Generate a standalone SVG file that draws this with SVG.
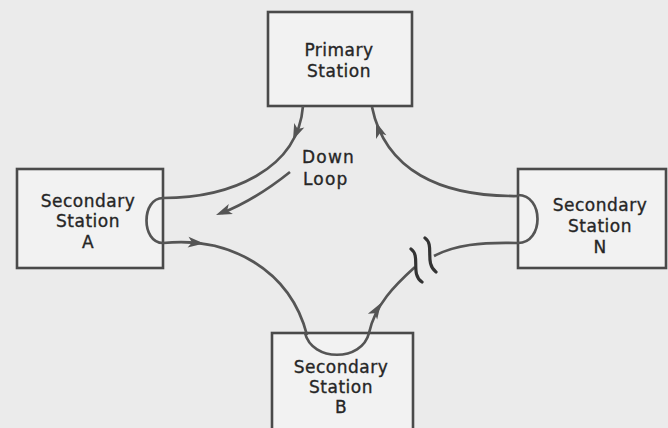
<svg xmlns="http://www.w3.org/2000/svg" xmlns:xlink="http://www.w3.org/1999/xlink" width="668" height="428" viewBox="0 0 668 428">
<style>
.box{fill:#f2f2f2;stroke:#4a4a4a;stroke-width:2.6}
.lbl{font-family:"DejaVu Sans",sans-serif;font-size:17px;fill:#262626;stroke:#262626;stroke-width:0.35;text-anchor:middle;letter-spacing:0.5px}
.line{fill:none;stroke:#555;stroke-width:2.7}
.brk{fill:none;stroke:#333;stroke-width:3.2;stroke-linecap:round}
.ah{fill:#555}
</style>
<defs>
<path id="ah" d="M0,0 L-16,-5.5 L-12,0 L-16,5.5 Z"/>
</defs>
<rect x="0" y="0" width="668" height="428" fill="#ebebeb"/>

<g id="primary">
<rect class="box" x="268" y="12" width="144" height="94"/>
<text class="lbl" x="339" y="56">Primary</text>
<text class="lbl" x="339" y="77">Station</text>
</g>

<g id="secA">
<rect class="box" x="17" y="169" width="146" height="99"/>
<text class="lbl" x="88" y="207">Secondary</text>
<text class="lbl" x="88" y="227">Station</text>
<text class="lbl" x="88" y="248">A</text>
</g>

<g id="secN">
<rect class="box" x="518" y="169" width="148" height="99"/>
<text class="lbl" x="600" y="211">Secondary</text>
<text class="lbl" x="600" y="232">Station</text>
<text class="lbl" x="600" y="253">N</text>
</g>

<g id="secB">
<rect class="box" x="272" y="333" width="141" height="100"/>
<text class="lbl" x="341" y="373">Secondary</text>
<text class="lbl" x="341" y="393">Station</text>
<text class="lbl" x="341" y="413">B</text>
</g>

<g id="connectors">
<path class="line" d="M303,106 C298,170 230,198 163,198"/>
<path class="line" d="M163,198 C141,198 141,243 163,243"/>
<path class="line" d="M163,243 C230,236 290,270 307,335"/>
<path class="line" d="M305,333 C312,362 362,362 369,333"/>
<path class="line" d="M369,333 C375,305 395,285 415,267"/>
<path class="line" d="M434,256 C455,245 480,242 518,243"/>
<path class="line" d="M518,195 C544,195 544,243 518,243"/>
<path class="line" d="M372,107 C385,170 440,197 518,196"/>
<path class="brk" d="M411,249 C421,256 410,274 422,282"/>
<path class="brk" d="M425,238 C435,245 424,263 436,272"/>
<use xlink:href="#ah" class="ah" transform="translate(293,140) rotate(113)"/>
<use xlink:href="#ah" class="ah" transform="translate(204,243.5) rotate(5)"/>
<use xlink:href="#ah" class="ah" transform="translate(381,303) rotate(-58)"/>
<use xlink:href="#ah" class="ah" transform="translate(376,122) rotate(-109)"/>
</g>

<g id="downloop">
<path class="line" d="M290,172 Q255,200 222,213"/>
<use xlink:href="#ah" class="ah" transform="translate(216,215) rotate(158)"/>
<text class="lbl" x="302" y="163" style="text-anchor:start;letter-spacing:1.2px">Down</text>
<text class="lbl" x="303" y="185" style="text-anchor:start;letter-spacing:1.2px">Loop</text>
</g>
</svg>
